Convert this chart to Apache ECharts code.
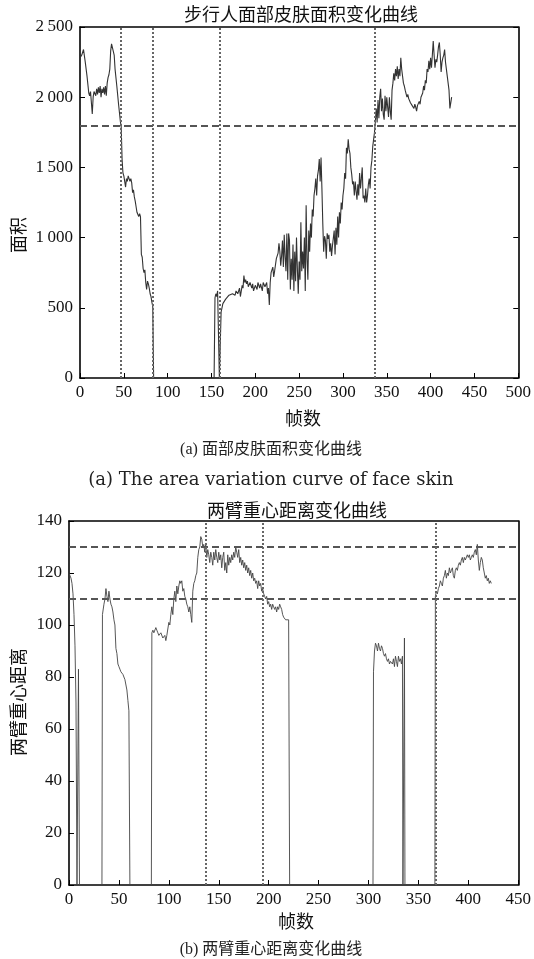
<!DOCTYPE html>
<html>
<head>
<meta charset="utf-8">
<script src="https://cdn.jsdelivr.net/npm/echarts@6/dist/echarts.min.js"></script>
<style>html,body{margin:0;padding:0;background:#fff}#c{width:534px;height:959px}</style>
</head>
<body>
<div id="c"></div>
<script>
// ---- Data: face skin area (top chart) ----
const faceCurve = [
[0,2280],[2,2300],[4,2340],[5,2330],[6,2250],[8,2150],[10,2030],[11,2010],[12,2040],[13,1960],[14,1880],[15,2000],[16,2040],[18,2010],[19,2060],[20,2020],[21,2070],[22,2030],[23,2080],[24,2000],[25,2060],[26,2030],[27,2070],[28,2020],[29,2080],[30,2010],[31,2100],[32,2140],[33,2160],[34,2200],[35,2330],[36,2380],[37,2370],[38,2380],[39,2300],[40,2200],[42,2080],[44,1950],[46,1830],[47,1790],[48,1560],[49,1460],[50,1440],[51,1400],[52,1360],[53,1420],[54,1400],[55,1440],[56,1430],[57,1400],[58,1420],[59,1390],[60,1320],[61,1340],[62,1290],[63,1260],[64,1220],[65,1180],[66,1170],[67,1150],[68,1170],[69,1150],[70,880],[71,860],[72,780],[73,750],[74,770],[75,680],[76,630],[77,690],[78,670],[79,640],[80,600],[81,580],[82,540],[83,510],[84,0],
[153,0],[154,570],[155,600],[156,580],[157,620],[158,630],[159,0],[160,0],[161,470],[162,500],[163,530],[164,540],[166,560],[168,570],[170,590],[172,580],[174,600],[176,610],[177,590],[178,620],[180,600],[182,640],[183,580],[185,660],[186,640],[187,730],[188,680],[189,700],[190,670],[191,690],[192,650],[194,680],[196,640],[197,670],[198,620],[200,660],[202,630],[203,680],[205,640],[206,670],[208,620],[209,680],[211,650],[213,680],[214,600],[215,640],[216,520],[217,680],[218,750],[219,740],[220,790],[221,720],[222,760],[224,850],[226,890],[227,960],[228,900],[229,800],[230,870],[231,980],[232,790],[233,1020],[234,860],[235,760],[236,1030],[237,700],[238,1030],[239,980],[240,630],[241,850],[242,700],[243,950],[244,620],[245,900],[246,690],[247,1000],[248,780],[249,600],[250,830],[251,700],[252,1110],[253,760],[254,900],[255,780],[256,1000],[257,620],[258,1230],[259,850],[260,700],[261,1050],[262,900],[263,1100],[264,1000],[265,1200],[266,1150],[267,1300],[268,1350],[269,1420],[270,1300],[271,1440],[272,1480],[273,1560],[274,1400],[275,1570],[276,1350],[277,1100],[278,900],[279,1010],[280,980],[281,850],[282,1030],[283,990],[284,1020],[285,900],[286,960],[287,870],[288,940],[290,1050],[291,880],[292,1070],[293,950],[294,1150],[295,1000],[296,1180],[297,1100],[298,1250],[299,1200],[300,1300],[301,1350],[302,1460],[303,1420],[304,1640],[305,1600],[306,1700],[307,1630],[308,1600],[309,1500],[310,1450],[311,1380],[312,1400],[313,1300],[314,1400],[315,1330],[316,1270],[317,1380],[318,1300],[319,1460],[320,1350],[321,1420],[322,1500],[323,1280],[324,1300],[325,1250],[326,1350],[327,1250],[328,1300],[329,1380],[330,1420],[331,1350],[332,1500],[333,1550],[334,1650],[335,1700],[336,1750],[337,1830],[338,1920],[339,1820],[340,1980],[341,1850],[342,2000],[343,2060],[344,1900],[345,1990],[346,1880],[347,1840],[348,2010],[349,1900],[350,2000],[351,1990],[352,1860],[353,2000],[354,1900],[355,1840],[356,2050],[357,2100],[358,2170],[359,2120],[360,2200],[361,2150],[362,2220],[363,2130],[364,2200],[365,2150],[366,2280],[367,2200],[368,2150],[369,2100],[370,2080],[371,2050],[372,2040],[373,2000],[374,2020],[375,1990],[376,2000],[377,1960],[378,1970],[379,1940],[380,1950],[381,1920],[382,1950],[383,1930],[384,1900],[385,1940],[386,1930],[387,1970],[388,1950],[389,2000],[390,1990],[391,2030],[392,2080],[393,2050],[394,2120],[395,2100],[396,2200],[397,2180],[398,2260],[399,2200],[400,2280],[401,2210],[402,2300],[403,2400],[404,2300],[405,2210],[406,2270],[407,2250],[408,2300],[409,2360],[410,2390],[411,2300],[412,2180],[413,2250],[414,2280],[415,2300],[416,2340],[417,2250],[418,2200],[419,2150],[420,2100],[421,2050],[422,1920],[423,1960],[424,2000]
];
const faceThreshold = [1800];
const faceMarks = [47, 83, 160, 336];
const faceXTicks = [0, 500, 50];
const faceYTicks = [0, 2500, 500];

// ---- Data: arm centroid distance (bottom chart) ----
const armCurve = [
[0,120],[1,119],[2,118],[3,116],[4,112],[5,104],[6,92],[7,70],[8,0],[9,0],[9.5,83],[10.5,0],[33,0],[33.5,104],[35,108],[36,110],[37,114],[38,111],[39,109],[40,113],[41,110],[42,108],[43,107],[44,105],[45,102],[46,100],[47,91],[48,89],[49,85],[50,84],[51,83],[52,82],[53,82],[54,81],[55,80],[56,79],[57,79],[58,75],[59,71],[60,67],[61,0],
[82.5,0],[83,97],[84,98],[85,97],[87,99],[88,98],[89,97],[90,96],[92,97],[94,95],[96,96],[97,94],[98,96],[100,101],[101,100],[102,104],[103,107],[104,104],[105,110],[106,113],[107,109],[108,115],[109,112],[110,115],[111,117],[112,116],[113,117],[114,113],[115,114],[116,111],[117,110],[118,108],[119,107],[120,105],[121,107],[122,104],[123,101],[124,113],[125,116],[126,117],[127,119],[128,120],[129,126],[130,129],[131,130],[132,134],[133,133],[134,130],[135,131],[136,128],[137,131],[138,126],[139,129],[140,127],[141,124],[142,128],[143,126],[144,123],[145,128],[146,125],[147,129],[148,126],[149,124],[150,128],[151,125],[152,127],[153,122],[154,126],[155,128],[156,121],[157,124],[158,120],[159,127],[160,123],[161,126],[162,124],[163,127],[164,125],[165,128],[166,126],[167,130],[168,128],[169,126],[170,129],[171,124],[172,126],[173,123],[174,125],[175,122],[176,124],[177,121],[178,123],[179,120],[180,122],[181,119],[182,121],[183,118],[184,120],[185,117],[186,118],[187,116],[188,117],[189,114],[190,117],[191,115],[192,116],[193,113],[194,114],[195,112],[196,111],[197,110],[198,111],[199,108],[200,109],[201,107],[202,108],[203,106],[204,108],[205,107],[206,106],[207,107],[208,105],[209,107],[210,106],[211,108],[212,107],[213,106],[214,104],[215,103],[216,103],[217,102],[220,102],[221,0],
[304.5,0],[305,82],[306,90],[307,93],[308,92],[309,90],[310,93],[311,91],[312,90],[313,92],[314,91],[315,89],[316,88],[317,89],[318,87],[319,86],[320,87],[321,85],[322,86],[323,86],[324,85],[325,87],[326,84],[327,88],[328,86],[329,84],[330,88],[331,86],[332,87],[333,85],[334,88],[334.5,0],[335.5,0],[336,95],[336.5,0],
[366.5,0],[367,111],[368,113],[369,112],[370,114],[371,115],[372,117],[373,116],[374,115],[375,118],[376,119],[377,121],[378,118],[379,120],[380,119],[381,122],[382,120],[383,121],[384,122],[385,119],[386,118],[387,121],[388,122],[389,121],[390,123],[391,124],[392,123],[393,125],[394,126],[395,124],[396,126],[397,125],[398,125],[399,127],[400,126],[401,127],[402,125],[403,126],[404,127],[405,126],[406,128],[407,129],[408,127],[409,131],[410,125],[411,121],[412,124],[413,126],[414,125],[415,122],[416,120],[417,118],[418,119],[419,117],[420,118],[421,116],[422,117],[423,116]
];
const armThresholds = [130, 110];
const armMarks = [137, 194, 367];
const armXTicks = [0, 450, 50];
const armYTicks = [0, 140, 20];

// ---- Texts ----
const titleA = '步行人面部皮肤面积变化曲线';
const titleB = '两臂重心距离变化曲线';
const xNameA = '帧数', yNameA = '面积';
const xNameB = '帧数', yNameB = '两臂重心距离';
const captionA1 = '(a) 面部皮肤面积变化曲线';
const captionA2 = '(a) The area variation curve of face skin';
const captionB = '(b) 两臂重心距离变化曲线';

const SERIF = '"Liberation Serif","Noto Sans CJK SC",serif';
const WIDESERIF = '"DejaVu Serif",serif';
const CJK = '"Noto Sans CJK SC",sans-serif';
const labelStyle = {color:'#111', fontFamily: SERIF, fontSize: 17};
const frameLine = {show:true, onZero:false, lineStyle:{color:'#000', width:1.6}};

function fmtThousands(v){
  return v >= 1000 ? Math.floor(v/1000) + '\u2009' + String(v%1000).padStart(3,'0') : String(v);
}

function xAxes(gi, t){
  return [
    {type:'value', gridIndex:gi, min:t[0], max:t[1], interval:t[2], position:'bottom',
     axisLine:frameLine, axisTick:{show:true, inside:true, length:5, lineStyle:{color:'#000'}},
     axisLabel:Object.assign({margin:6}, labelStyle), splitLine:{show:false}},
    {type:'value', gridIndex:gi, min:t[0], max:t[1], interval:t[2], position:'top',
     axisLine:frameLine, axisTick:{show:false}, axisLabel:{show:false}, splitLine:{show:false}}
  ];
}
function yAxes(gi, t, fmt, rightTicks){
  return [
    {type:'value', gridIndex:gi, min:t[0], max:t[1], interval:t[2], position:'left',
     axisLine:frameLine, axisTick:{show:true, inside:true, length:5, lineStyle:{color:'#000'}},
     axisLabel:Object.assign({margin:7, formatter:fmt}, labelStyle), splitLine:{show:false}},
    {type:'value', gridIndex:gi, min:t[0], max:t[1], interval:t[2], position:'right',
     axisLine:frameLine, axisTick:{show:rightTicks, inside:true, length:5, lineStyle:{color:'#000'}},
     axisLabel:{show:false}, splitLine:{show:false}}
  ];
}
function marks(hs, vs){
  const d = [];
  hs.forEach(h => d.push({yAxis:h, lineStyle:{type:[7,4], width:2, color:'#555'}}));
  vs.forEach(v => d.push({xAxis:v, lineStyle:{type:[2,2], width:2, color:'#666'}}));
  return {symbol:'none', silent:true, animation:false, label:{show:false}, data:d};
}

const chart = echarts.init(document.getElementById('c'), null, {renderer:'canvas'});
chart.setOption({
  animation:false,
  backgroundColor:'#fff',
  grid:[
    {left:80, right:8, top:27, height:351},
    {left:69, right:11, top:521, height:364}
  ],
  xAxis:[].concat(xAxes(0, faceXTicks), xAxes(1, armXTicks)),
  yAxis:[].concat(yAxes(0, faceYTicks, fmtThousands, true), yAxes(1, armYTicks, v=>String(v), false)),
  series:[
    {type:'line', xAxisIndex:0, yAxisIndex:0, data:faceCurve, showSymbol:false, symbol:'none',
     lineStyle:{color:'#333', width:1.1}, markLine:marks(faceThreshold, faceMarks)},
    {type:'line', xAxisIndex:2, yAxisIndex:2, data:armCurve, showSymbol:false, symbol:'none',
     lineStyle:{color:'#444', width:0.9}, markLine:marks(armThresholds, armMarks)}
  ],
  graphic:[
    {type:'text', x:301, y:14, style:{text:titleA, font:'18px '+CJK, fill:'#111', textAlign:'center', textVerticalAlign:'middle'}},
    {type:'text', x:303, y:418, style:{text:xNameA, font:'18px '+CJK, fill:'#111', textAlign:'center', textVerticalAlign:'middle'}},
    {type:'text', x:18, y:235, rotation:Math.PI/2, style:{text:yNameA, font:'18px '+CJK, fill:'#111', textAlign:'center', textVerticalAlign:'middle'}},
    {type:'text', x:271, y:450, style:{text:captionA1, font:'16px '+SERIF, fill:'#222', textAlign:'center', textVerticalAlign:'middle'}},
    {type:'text', x:271, y:480, style:{text:captionA2, font:'18px '+WIDESERIF, fill:'#222', textAlign:'center', textVerticalAlign:'middle'}},
    {type:'text', x:297, y:510, style:{text:titleB, font:'18px '+CJK, fill:'#111', textAlign:'center', textVerticalAlign:'middle'}},
    {type:'text', x:296, y:921, style:{text:xNameB, font:'18px '+CJK, fill:'#111', textAlign:'center', textVerticalAlign:'middle'}},
    {type:'text', x:18, y:702, rotation:Math.PI/2, style:{text:yNameB, font:'18px '+CJK, fill:'#111', textAlign:'center', textVerticalAlign:'middle'}},
    {type:'text', x:271, y:950, style:{text:captionB, font:'16px '+SERIF, fill:'#222', textAlign:'center', textVerticalAlign:'middle'}}
  ]
});
</script>
</body>
</html>
